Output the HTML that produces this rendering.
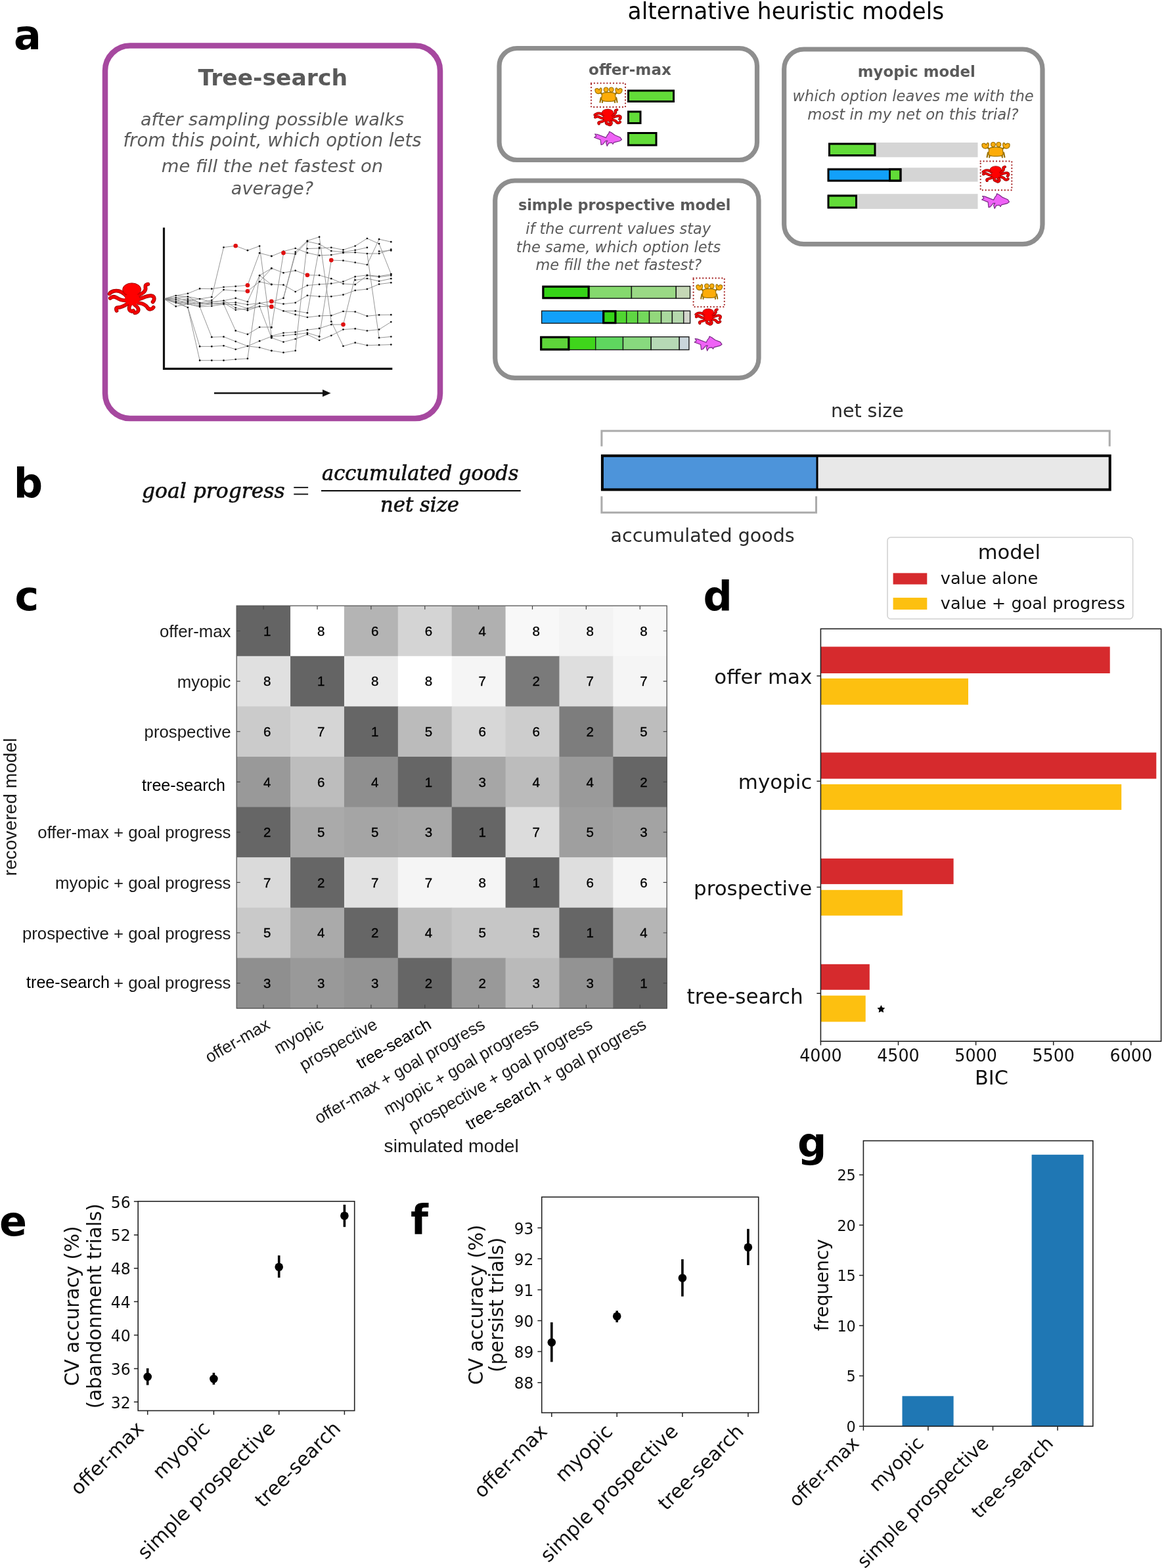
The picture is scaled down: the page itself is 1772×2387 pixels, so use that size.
<!DOCTYPE html>
<html><head><meta charset="utf-8"><title>Figure</title>
<style>html,body{margin:0;padding:0;background:#fff;} svg{display:block;}</style></head>
<body><svg width="1772" height="2387" viewBox="0 0 1772 2387">
<rect width="1772" height="2387" fill="#fff"/>

<defs>
 <g id="octo">
  <g fill="none" stroke-linecap="round" stroke-linejoin="round">
   <g stroke="#9a0000" stroke-width="112">
    <path d="M640,610 C520,470 380,420 250,450 C180,470 150,500 130,530"/>
    <path d="M640,720 C520,740 420,700 330,640 C260,600 200,620 150,660"/>
    <path d="M660,820 C560,900 450,930 360,940 C320,950 320,990 340,1030"/>
    <path d="M740,850 C690,950 700,1030 790,1050 C820,1050 830,1035 835,1030"/>
    <path d="M880,860 C980,930 1010,1000 960,1060 C930,1090 900,1095 880,1095"/>
    <path d="M990,800 C1150,820 1230,880 1270,960 C1320,1010 1400,980 1430,930"/>
    <path d="M990,690 C1150,640 1280,570 1380,590 C1470,610 1470,700 1410,770"/>
    <path d="M950,590 C1130,520 1230,430 1190,330 C1180,280 1220,250 1270,245"/>
   </g>
   <g stroke="#f20000" stroke-width="80">
    <path d="M640,610 C520,470 380,420 250,450 C180,470 150,500 130,530"/>
    <path d="M640,720 C520,740 420,700 330,640 C260,600 200,620 150,660"/>
    <path d="M660,820 C560,900 450,930 360,940 C320,950 320,990 340,1030"/>
    <path d="M740,850 C690,950 700,1030 790,1050 C820,1050 830,1035 835,1030"/>
    <path d="M880,860 C980,930 1010,1000 960,1060 C930,1090 900,1095 880,1095"/>
    <path d="M990,800 C1150,820 1230,880 1270,960 C1320,1010 1400,980 1430,930"/>
    <path d="M990,690 C1150,640 1280,570 1380,590 C1470,610 1470,700 1410,770"/>
    <path d="M950,590 C1130,520 1230,430 1190,330 C1180,280 1220,250 1270,245"/>
   </g>
  </g>
  <ellipse cx="790" cy="405" rx="272" ry="192" fill="#ff0000" stroke="#9a0000" stroke-width="18"/>
  <ellipse cx="800" cy="680" rx="215" ry="190" fill="#ff0000"/>
 </g>
 <g id="octos">
  <g fill="none" stroke-linecap="round" stroke-linejoin="round">
   <g stroke="#8e0000" stroke-width="150">
    <path d="M640,610 C520,470 380,420 250,450 C180,470 150,500 130,530"/>
    <path d="M640,720 C520,740 420,700 330,640 C260,600 200,620 150,660"/>
    <path d="M660,820 C560,900 450,930 360,940 C320,950 320,990 340,1030"/>
    <path d="M740,850 C690,950 700,1030 790,1050 C820,1050 830,1035 835,1030"/>
    <path d="M880,860 C980,930 1010,1000 960,1060 C930,1090 900,1095 880,1095"/>
    <path d="M990,800 C1150,820 1230,880 1270,960 C1320,1010 1400,980 1430,930"/>
    <path d="M990,690 C1150,640 1280,570 1380,590 C1470,610 1470,700 1410,770"/>
    <path d="M950,590 C1130,520 1230,430 1190,330 C1180,280 1220,250 1270,245"/>
   </g>
   <g stroke="#ee0000" stroke-width="95">
    <path d="M640,610 C520,470 380,420 250,450 C180,470 150,500 130,530"/>
    <path d="M640,720 C520,740 420,700 330,640 C260,600 200,620 150,660"/>
    <path d="M660,820 C560,900 450,930 360,940 C320,950 320,990 340,1030"/>
    <path d="M740,850 C690,950 700,1030 790,1050 C820,1050 830,1035 835,1030"/>
    <path d="M880,860 C980,930 1010,1000 960,1060 C930,1090 900,1095 880,1095"/>
    <path d="M990,800 C1150,820 1230,880 1270,960 C1320,1010 1400,980 1430,930"/>
    <path d="M990,690 C1150,640 1280,570 1380,590 C1470,610 1470,700 1410,770"/>
    <path d="M950,590 C1130,520 1230,430 1190,330 C1180,280 1220,250 1270,245"/>
   </g>
  </g>
  <ellipse cx="790" cy="405" rx="300" ry="205" fill="#ff0000" stroke="#8e0000" stroke-width="26"/>
  <ellipse cx="800" cy="680" rx="215" ry="190" fill="#ff0000"/>
 </g>
 <g id="crab" stroke="#9a7000" stroke-linejoin="round" stroke-linecap="round">
   <path d="M22,36 L19,51 M29,39 L27,52 M78,36 L81,51 M71,39 L73,52" fill="none" stroke-width="5"/>
   <path d="M18,16 L31,27 M82,16 L69,27" fill="none" stroke-width="6"/>
   <path d="M1,8 C0,17 6,22 14,21.5 C22,21 26,14 25,6 C24.5,2 21,1 19,3.5 L15.5,9 C13.5,4.5 9,3 5.5,4 C2.5,4.5 1,6 1,8 Z" fill="#fbad0e" stroke-width="2.8"/>
   <path d="M99,8 C100,17 94,22 86,21.5 C78,21 74,14 75,6 C75.5,2 79,1 81,3.5 L84.5,9 C86.5,4.5 91,3 94.5,4 C97.5,4.5 99,6 99,8 Z" fill="#fbad0e" stroke-width="2.8"/>
   <circle cx="40.5" cy="8" r="8" fill="#fbad0e" stroke-width="2.8"/>
   <circle cx="60" cy="8" r="8" fill="#fbad0e" stroke-width="2.8"/>
   <path d="M26,24 C28,18 40,17 50,17.5 C60,17 72,18 74,24 L76,40 C76,47 68,48.5 50,48.5 C32,48.5 24,47 24,40 Z" fill="#fcac08" stroke-width="2.8"/>
 </g>
 <g id="fish">
  <path d="M100,29.2 L94,21 L75.3,13.5 L64,5.2 L55,0.7 L52.8,7.5 L47.6,13.5 L43,22.5 L11.6,10.5 L2.6,9.4 L7.9,16.5 L0.4,21.7 L22.8,30 L25.1,47.9 L31.1,46.4 L41.6,34.5 L48.3,33.7 L43.1,40.4 L46.8,52.4 L52.8,41.9 L64,40.4 L67.8,45.7 L71.5,39.7 L92.5,34.5 Z" fill="#ef62f6" stroke="#7a2a86" stroke-width="2.8" stroke-linejoin="round"/>
 </g>
</defs>

<text x="21.0" y="75.0" font-size="62" font-family="'DejaVu Sans', 'Liberation Sans', sans-serif" text-anchor="start" fill="#000" font-weight="bold">a</text>
<text x="20.8" y="757.0" font-size="62" font-family="'DejaVu Sans', 'Liberation Sans', sans-serif" text-anchor="start" fill="#000" font-weight="bold">b</text>
<text x="22.5" y="928.8" font-size="62" font-family="'DejaVu Sans', 'Liberation Sans', sans-serif" text-anchor="start" fill="#000" font-weight="bold">c</text>
<text x="1070.4" y="929.0" font-size="62" font-family="'DejaVu Sans', 'Liberation Sans', sans-serif" text-anchor="start" fill="#000" font-weight="bold">d</text>
<text x="-1.1" y="1881.0" font-size="62" font-family="'DejaVu Sans', 'Liberation Sans', sans-serif" text-anchor="start" fill="#000" font-weight="bold">e</text>
<text x="625.0" y="1877.8" font-size="62" font-family="'DejaVu Sans', 'Liberation Sans', sans-serif" text-anchor="start" fill="#000" font-weight="bold">f</text>
<text x="1214.1" y="1761.2" font-size="62" font-family="'DejaVu Sans', 'Liberation Sans', sans-serif" text-anchor="start" fill="#000" font-weight="bold">g</text>
<text x="955.6" y="29.3" font-size="35" font-family="'DejaVu Sans', 'Liberation Sans', sans-serif" text-anchor="start" fill="#000" textLength="481.6" lengthAdjust="spacingAndGlyphs">alternative heuristic models</text>
<rect x="160" y="69.5" width="510" height="567.5" rx="38" ry="38" fill="none" stroke="#a6489f" stroke-width="8.5"/>
<text x="415.2" y="130.0" font-size="34.6" font-family="'DejaVu Sans', 'Liberation Sans', sans-serif" text-anchor="middle" fill="#5a5a5a" font-weight="bold">Tree-search</text>
<text x="414.5" y="190.7" font-size="27.1" font-family="'DejaVu Sans', 'Liberation Sans', sans-serif" text-anchor="middle" fill="#5a5a5a" font-style="italic">after sampling possible walks</text>
<text x="414.5" y="222.7" font-size="27.5" font-family="'DejaVu Sans', 'Liberation Sans', sans-serif" text-anchor="middle" fill="#5a5a5a" font-style="italic">from this point, which option lets</text>
<text x="414.5" y="262.0" font-size="27.4" font-family="'DejaVu Sans', 'Liberation Sans', sans-serif" text-anchor="middle" fill="#5a5a5a" font-style="italic">me fill the net fastest on</text>
<text x="414.5" y="296.0" font-size="27.1" font-family="'DejaVu Sans', 'Liberation Sans', sans-serif" text-anchor="middle" fill="#5a5a5a" font-style="italic">average?</text>
<path d="M249.5,346.5 L249.5,561.3 L597.3,561.3" fill="none" stroke="#111" stroke-width="3.2"/>
<line x1="326" y1="598.5" x2="494" y2="598.5" stroke="#111" stroke-width="2.6"/>
<path d="M491,593 L503.5,598.5 L491,604 Z" fill="#111"/>
<polyline points="249.5,455.0 267.7,450.0 285.9,446.8 304.1,439.4 322.3,439.7 340.5,437.0 358.7,435.9 376.9,434.2 395.1,385.2 413.3,389.9" fill="none" stroke="#8a8a8a" stroke-width="0.9"/>
<polyline points="249.5,455.0 267.7,453.3 285.9,451.7 304.1,455.0 322.3,452.2 340.5,376.5 358.7,374.3 376.9,381.2 395.1,374.6 413.3,512.2" fill="none" stroke="#8a8a8a" stroke-width="0.9"/>
<polyline points="249.5,455.0 267.7,456.0 285.9,455.0 304.1,461.0 322.3,457.1 340.5,441.1 358.7,442.6 376.9,443.3 395.1,428.8 413.3,408.6" fill="none" stroke="#8a8a8a" stroke-width="0.9"/>
<polyline points="249.5,455.0 267.7,458.8 285.9,457.7 304.1,463.1 322.3,459.9 340.5,457.7 358.7,453.9 376.9,459.3 395.1,419.3 413.3,433.2" fill="none" stroke="#8a8a8a" stroke-width="0.9"/>
<polyline points="249.5,455.0 267.7,461.0 285.9,459.9 304.1,465.3 322.3,462.6 340.5,461.0 358.7,460.4 376.9,463.7 395.1,461.5 413.3,458.8" fill="none" stroke="#8a8a8a" stroke-width="0.9"/>
<polyline points="249.5,455.0 267.7,466.4 285.9,462.6 304.1,467.0 322.3,465.8 340.5,463.1 358.7,463.7 376.9,469.7 395.1,466.4 413.3,466.9" fill="none" stroke="#8a8a8a" stroke-width="0.9"/>
<polyline points="249.5,455.0 267.7,461.0 285.9,468.0 304.1,527.4 322.3,527.4 340.5,526.3 358.7,531.8 376.9,526.9 395.1,519.2 413.3,512.2" fill="none" stroke="#8a8a8a" stroke-width="0.9"/>
<polyline points="249.5,455.0 267.7,458.8 285.9,468.0 304.1,548.7 322.3,548.7 340.5,548.7 358.7,547.0 376.9,545.9 395.1,419.3 413.3,408.6" fill="none" stroke="#8a8a8a" stroke-width="0.9"/>
<polyline points="249.5,455.0 267.7,456.0 285.9,462.6 304.1,461.0 322.3,462.6 340.5,463.1 358.7,503.4 376.9,508.9 395.1,498.0 413.3,498.0" fill="none" stroke="#8a8a8a" stroke-width="0.9"/>
<polyline points="249.5,455.0 267.7,461.0 285.9,462.6 304.1,467.0 322.3,513.2 340.5,512.7 358.7,519.8 376.9,526.9 395.1,529.0 413.3,534.0" fill="none" stroke="#8a8a8a" stroke-width="0.9"/>
<polyline points="249.5,455.0 267.7,453.3 285.9,457.7 304.1,455.0 322.3,459.9 340.5,457.7 358.7,468.6 376.9,472.4 395.1,466.4 413.3,514.3" fill="none" stroke="#8a8a8a" stroke-width="0.9"/>
<polyline points="249.5,455.0 267.7,450.0 285.9,451.7 304.1,461.0 322.3,462.6 340.5,461.0 358.7,471.8 376.9,469.7 395.1,461.5 413.3,466.9" fill="none" stroke="#8a8a8a" stroke-width="0.9"/>
<polyline points="395.1,428.8 413.3,433.2" fill="none" stroke="#8a8a8a" stroke-width="0.9"/>
<polyline points="413.3,390.0 431.5,382.6 449.7,378.0 467.9,384.9 486.1,388.9 504.3,388.1 522.5,384.9 540.7,384.3 558.9,386.0 577.1,386.0 595.3,379.7" fill="none" stroke="#8a8a8a" stroke-width="0.9"/>
<polyline points="431.5,385.1 449.7,386.6 467.9,367.6 486.1,371.6 504.3,382.0 522.5,383.7 540.7,380.8 558.9,376.8" fill="none" stroke="#8a8a8a" stroke-width="0.9"/>
<polyline points="413.3,459.6 431.5,453.9 449.7,383.7 467.9,366.5 486.1,360.7 504.3,489.5 522.5,526.9 540.7,521.7 558.9,525.7 577.1,525.2 595.3,524.6" fill="none" stroke="#8a8a8a" stroke-width="0.9"/>
<polyline points="449.7,533.8 467.9,367.6" fill="none" stroke="#8a8a8a" stroke-width="0.9"/>
<polyline points="467.9,378.5 486.1,378.0 504.3,376.8 522.5,380.3 540.7,374.5 558.9,363.0 577.1,371.1 595.3,417.1" fill="none" stroke="#8a8a8a" stroke-width="0.9"/>
<polyline points="486.1,376.8 467.9,476.3" fill="none" stroke="#8a8a8a" stroke-width="0.9"/>
<polyline points="504.3,396.1 522.5,396.7 540.7,399.6 558.9,403.0 577.1,364.2 595.3,368.2" fill="none" stroke="#8a8a8a" stroke-width="0.9"/>
<polyline points="504.3,396.1 486.1,512.5" fill="none" stroke="#8a8a8a" stroke-width="0.9"/>
<polyline points="413.3,408.4 431.5,415.3 449.7,411.9 467.9,418.8 486.1,419.1 504.3,424.2 522.5,432.0 540.7,433.2 558.9,419.4 577.1,421.7 595.3,419.4" fill="none" stroke="#8a8a8a" stroke-width="0.9"/>
<polyline points="413.3,432.9 431.5,433.7 449.7,444.1 467.9,434.5 486.1,432.9 504.3,431.7 522.5,428.6 540.7,421.1 558.9,418.8 577.1,420.5 595.3,417.6" fill="none" stroke="#8a8a8a" stroke-width="0.9"/>
<polyline points="522.5,494.1 540.7,421.1" fill="none" stroke="#8a8a8a" stroke-width="0.9"/>
<polyline points="413.3,459.6 431.5,462.7 449.7,460.8 467.9,449.8 486.1,451.3 504.3,451.3 522.5,448.7 540.7,442.1 558.9,440.1 577.1,432.6 595.3,430.3" fill="none" stroke="#8a8a8a" stroke-width="0.9"/>
<polyline points="413.3,466.5 431.5,473.4 449.7,473.4 467.9,476.3" fill="none" stroke="#8a8a8a" stroke-width="0.9"/>
<polyline points="431.5,473.4 449.7,478.9 467.9,483.0 486.1,480.9 504.3,480.3 522.5,474.0 540.7,474.6 558.9,481.2 577.1,479.4 595.3,479.2" fill="none" stroke="#8a8a8a" stroke-width="0.9"/>
<polyline points="413.3,511.4 431.5,506.8 449.7,505.6 467.9,502.2 486.1,499.9 504.3,494.1 522.5,494.1" fill="none" stroke="#8a8a8a" stroke-width="0.9"/>
<polyline points="413.3,512.5 431.5,510.8 449.7,509.1 467.9,506.8 486.1,512.2" fill="none" stroke="#8a8a8a" stroke-width="0.9"/>
<polyline points="413.3,514.2 431.5,520.6 449.7,516.0 467.9,509.1 486.1,518.0 504.3,510.8 522.5,501.6 540.7,500.4 558.9,503.5 577.1,501.6 595.3,490.1" fill="none" stroke="#8a8a8a" stroke-width="0.9"/>
<polyline points="558.9,386.0 577.1,514.2 595.3,512.5" fill="none" stroke="#8a8a8a" stroke-width="0.9"/>
<polyline points="413.3,533.8 431.5,536.7 449.7,533.8" fill="none" stroke="#8a8a8a" stroke-width="0.9"/>
<polyline points="540.7,426.3 558.9,424.0 577.1,428.0 595.3,424.2" fill="none" stroke="#8a8a8a" stroke-width="0.9"/>
<polyline points="431.5,386.0 413.3,498.7" fill="none" stroke="#8a8a8a" stroke-width="0.9"/>
<polyline points="449.7,386.6 431.5,453.9" fill="none" stroke="#8a8a8a" stroke-width="0.9"/>
<polyline points="577.1,382.6 595.3,381.4" fill="none" stroke="#8a8a8a" stroke-width="0.9"/>
<g fill="#111"><circle cx="249.5" cy="455" r="1.35"/><circle cx="267.7" cy="450" r="1.35"/><circle cx="267.7" cy="453.3" r="1.35"/><circle cx="267.7" cy="456" r="1.35"/><circle cx="267.7" cy="458.8" r="1.35"/><circle cx="267.7" cy="461" r="1.35"/><circle cx="267.7" cy="466.4" r="1.35"/><circle cx="285.9" cy="446.8" r="1.35"/><circle cx="285.9" cy="451.7" r="1.35"/><circle cx="285.9" cy="455" r="1.35"/><circle cx="285.9" cy="457.7" r="1.35"/><circle cx="285.9" cy="459.9" r="1.35"/><circle cx="285.9" cy="462.6" r="1.35"/><circle cx="285.9" cy="468" r="1.35"/><circle cx="304.1" cy="439.4" r="1.35"/><circle cx="304.1" cy="455" r="1.35"/><circle cx="304.1" cy="461" r="1.35"/><circle cx="304.1" cy="463.1" r="1.35"/><circle cx="304.1" cy="465.3" r="1.35"/><circle cx="304.1" cy="467" r="1.35"/><circle cx="304.1" cy="527.4" r="1.35"/><circle cx="304.1" cy="548.7" r="1.35"/><circle cx="322.3" cy="439.7" r="1.35"/><circle cx="322.3" cy="452.2" r="1.35"/><circle cx="322.3" cy="457.1" r="1.35"/><circle cx="322.3" cy="459.9" r="1.35"/><circle cx="322.3" cy="462.6" r="1.35"/><circle cx="322.3" cy="465.8" r="1.35"/><circle cx="322.3" cy="513.2" r="1.35"/><circle cx="322.3" cy="527.4" r="1.35"/><circle cx="322.3" cy="548.7" r="1.35"/><circle cx="340.5" cy="376.5" r="1.35"/><circle cx="340.5" cy="437" r="1.35"/><circle cx="340.5" cy="441.1" r="1.35"/><circle cx="340.5" cy="457.7" r="1.35"/><circle cx="340.5" cy="461" r="1.35"/><circle cx="340.5" cy="463.1" r="1.35"/><circle cx="340.5" cy="512.7" r="1.35"/><circle cx="340.5" cy="526.3" r="1.35"/><circle cx="340.5" cy="548.7" r="1.35"/><circle cx="358.7" cy="374.3" r="1.35"/><circle cx="358.7" cy="435.9" r="1.35"/><circle cx="358.7" cy="442.6" r="1.35"/><circle cx="358.7" cy="453.9" r="1.35"/><circle cx="358.7" cy="460.4" r="1.35"/><circle cx="358.7" cy="463.7" r="1.35"/><circle cx="358.7" cy="468.6" r="1.35"/><circle cx="358.7" cy="471.8" r="1.35"/><circle cx="358.7" cy="503.4" r="1.35"/><circle cx="358.7" cy="519.8" r="1.35"/><circle cx="358.7" cy="531.8" r="1.35"/><circle cx="358.7" cy="547" r="1.35"/><circle cx="376.9" cy="381.2" r="1.35"/><circle cx="376.9" cy="434.2" r="1.35"/><circle cx="376.9" cy="443.3" r="1.35"/><circle cx="376.9" cy="459.3" r="1.35"/><circle cx="376.9" cy="463.7" r="1.35"/><circle cx="376.9" cy="469.7" r="1.35"/><circle cx="376.9" cy="472.4" r="1.35"/><circle cx="376.9" cy="508.9" r="1.35"/><circle cx="376.9" cy="526.9" r="1.35"/><circle cx="376.9" cy="545.9" r="1.35"/><circle cx="395.1" cy="374.6" r="1.35"/><circle cx="395.1" cy="385.2" r="1.35"/><circle cx="395.1" cy="419.3" r="1.35"/><circle cx="395.1" cy="428.8" r="1.35"/><circle cx="395.1" cy="461.5" r="1.35"/><circle cx="395.1" cy="466.4" r="1.35"/><circle cx="395.1" cy="498" r="1.35"/><circle cx="395.1" cy="519.2" r="1.35"/><circle cx="395.1" cy="529" r="1.35"/><circle cx="413.3" cy="389.9" r="1.35"/><circle cx="413.3" cy="390.0" r="1.35"/><circle cx="413.3" cy="408.4" r="1.35"/><circle cx="413.3" cy="408.6" r="1.35"/><circle cx="413.3" cy="432.9" r="1.35"/><circle cx="413.3" cy="433.2" r="1.35"/><circle cx="413.3" cy="458.8" r="1.35"/><circle cx="413.3" cy="459.6" r="1.35"/><circle cx="413.3" cy="466.5" r="1.35"/><circle cx="413.3" cy="466.9" r="1.35"/><circle cx="413.3" cy="498" r="1.35"/><circle cx="413.3" cy="498.7" r="1.35"/><circle cx="413.3" cy="511.4" r="1.35"/><circle cx="413.3" cy="512.2" r="1.35"/><circle cx="413.3" cy="512.5" r="1.35"/><circle cx="413.3" cy="514.2" r="1.35"/><circle cx="413.3" cy="514.3" r="1.35"/><circle cx="413.3" cy="533.8" r="1.35"/><circle cx="413.3" cy="534" r="1.35"/><circle cx="431.5" cy="382.6" r="1.35"/><circle cx="431.5" cy="385.1" r="1.35"/><circle cx="431.5" cy="386.0" r="1.35"/><circle cx="431.5" cy="415.3" r="1.35"/><circle cx="431.5" cy="433.7" r="1.35"/><circle cx="431.5" cy="453.9" r="1.35"/><circle cx="431.5" cy="462.7" r="1.35"/><circle cx="431.5" cy="473.4" r="1.35"/><circle cx="431.5" cy="506.8" r="1.35"/><circle cx="431.5" cy="510.8" r="1.35"/><circle cx="431.5" cy="520.6" r="1.35"/><circle cx="431.5" cy="536.7" r="1.35"/><circle cx="449.7" cy="378.0" r="1.35"/><circle cx="449.7" cy="383.7" r="1.35"/><circle cx="449.7" cy="386.6" r="1.35"/><circle cx="449.7" cy="411.9" r="1.35"/><circle cx="449.7" cy="444.1" r="1.35"/><circle cx="449.7" cy="460.8" r="1.35"/><circle cx="449.7" cy="473.4" r="1.35"/><circle cx="449.7" cy="478.9" r="1.35"/><circle cx="449.7" cy="505.6" r="1.35"/><circle cx="449.7" cy="509.1" r="1.35"/><circle cx="449.7" cy="516.0" r="1.35"/><circle cx="449.7" cy="533.8" r="1.35"/><circle cx="467.9" cy="366.5" r="1.35"/><circle cx="467.9" cy="367.6" r="1.35"/><circle cx="467.9" cy="378.5" r="1.35"/><circle cx="467.9" cy="384.9" r="1.35"/><circle cx="467.9" cy="418.8" r="1.35"/><circle cx="467.9" cy="434.5" r="1.35"/><circle cx="467.9" cy="449.8" r="1.35"/><circle cx="467.9" cy="476.3" r="1.35"/><circle cx="467.9" cy="483.0" r="1.35"/><circle cx="467.9" cy="502.2" r="1.35"/><circle cx="467.9" cy="506.8" r="1.35"/><circle cx="467.9" cy="509.1" r="1.35"/><circle cx="486.1" cy="360.7" r="1.35"/><circle cx="486.1" cy="371.6" r="1.35"/><circle cx="486.1" cy="376.8" r="1.35"/><circle cx="486.1" cy="378.0" r="1.35"/><circle cx="486.1" cy="388.9" r="1.35"/><circle cx="486.1" cy="419.1" r="1.35"/><circle cx="486.1" cy="432.9" r="1.35"/><circle cx="486.1" cy="451.3" r="1.35"/><circle cx="486.1" cy="480.9" r="1.35"/><circle cx="486.1" cy="499.9" r="1.35"/><circle cx="486.1" cy="512.2" r="1.35"/><circle cx="486.1" cy="512.5" r="1.35"/><circle cx="486.1" cy="518.0" r="1.35"/><circle cx="504.3" cy="376.8" r="1.35"/><circle cx="504.3" cy="382.0" r="1.35"/><circle cx="504.3" cy="388.1" r="1.35"/><circle cx="504.3" cy="396.1" r="1.35"/><circle cx="504.3" cy="424.2" r="1.35"/><circle cx="504.3" cy="431.7" r="1.35"/><circle cx="504.3" cy="451.3" r="1.35"/><circle cx="504.3" cy="480.3" r="1.35"/><circle cx="504.3" cy="489.5" r="1.35"/><circle cx="504.3" cy="494.1" r="1.35"/><circle cx="504.3" cy="510.8" r="1.35"/><circle cx="522.5" cy="380.3" r="1.35"/><circle cx="522.5" cy="383.7" r="1.35"/><circle cx="522.5" cy="384.9" r="1.35"/><circle cx="522.5" cy="396.7" r="1.35"/><circle cx="522.5" cy="428.6" r="1.35"/><circle cx="522.5" cy="432.0" r="1.35"/><circle cx="522.5" cy="448.7" r="1.35"/><circle cx="522.5" cy="474.0" r="1.35"/><circle cx="522.5" cy="494.1" r="1.35"/><circle cx="522.5" cy="501.6" r="1.35"/><circle cx="522.5" cy="526.9" r="1.35"/><circle cx="540.7" cy="374.5" r="1.35"/><circle cx="540.7" cy="380.8" r="1.35"/><circle cx="540.7" cy="384.3" r="1.35"/><circle cx="540.7" cy="399.6" r="1.35"/><circle cx="540.7" cy="421.1" r="1.35"/><circle cx="540.7" cy="426.3" r="1.35"/><circle cx="540.7" cy="433.2" r="1.35"/><circle cx="540.7" cy="442.1" r="1.35"/><circle cx="540.7" cy="474.6" r="1.35"/><circle cx="540.7" cy="500.4" r="1.35"/><circle cx="540.7" cy="521.7" r="1.35"/><circle cx="558.9" cy="363.0" r="1.35"/><circle cx="558.9" cy="376.8" r="1.35"/><circle cx="558.9" cy="386.0" r="1.35"/><circle cx="558.9" cy="403.0" r="1.35"/><circle cx="558.9" cy="418.8" r="1.35"/><circle cx="558.9" cy="419.4" r="1.35"/><circle cx="558.9" cy="424.0" r="1.35"/><circle cx="558.9" cy="440.1" r="1.35"/><circle cx="558.9" cy="481.2" r="1.35"/><circle cx="558.9" cy="503.5" r="1.35"/><circle cx="558.9" cy="525.7" r="1.35"/><circle cx="577.1" cy="364.2" r="1.35"/><circle cx="577.1" cy="371.1" r="1.35"/><circle cx="577.1" cy="382.6" r="1.35"/><circle cx="577.1" cy="386.0" r="1.35"/><circle cx="577.1" cy="420.5" r="1.35"/><circle cx="577.1" cy="421.7" r="1.35"/><circle cx="577.1" cy="428.0" r="1.35"/><circle cx="577.1" cy="432.6" r="1.35"/><circle cx="577.1" cy="479.4" r="1.35"/><circle cx="577.1" cy="501.6" r="1.35"/><circle cx="577.1" cy="514.2" r="1.35"/><circle cx="577.1" cy="525.2" r="1.35"/><circle cx="595.3" cy="368.2" r="1.35"/><circle cx="595.3" cy="379.7" r="1.35"/><circle cx="595.3" cy="381.4" r="1.35"/><circle cx="595.3" cy="417.1" r="1.35"/><circle cx="595.3" cy="417.6" r="1.35"/><circle cx="595.3" cy="419.4" r="1.35"/><circle cx="595.3" cy="424.2" r="1.35"/><circle cx="595.3" cy="430.3" r="1.35"/><circle cx="595.3" cy="479.2" r="1.35"/><circle cx="595.3" cy="490.1" r="1.35"/><circle cx="595.3" cy="512.5" r="1.35"/><circle cx="595.3" cy="524.6" r="1.35"/></g>
<g fill="#e01010"><circle cx="358.7" cy="374.3" r="3.3"/><circle cx="376.9" cy="434.2" r="3.3"/><circle cx="376.9" cy="443.3" r="3.3"/><circle cx="413.3" cy="458.8" r="3.3"/><circle cx="413.3" cy="466.9" r="3.3"/><circle cx="431.5" cy="385.1" r="3.3"/><circle cx="467.9" cy="418.8" r="3.3"/><circle cx="504.3" cy="396.1" r="3.3"/><circle cx="522.5" cy="494.1" r="3.3"/></g>
<use href="#octo" transform="translate(165.70,431.00) scale(0.05144,0.05156) translate(-110,-215)"/>
<rect x="760" y="73.5" width="392.5" height="170" rx="27" ry="27" fill="none" stroke="#8e8e8e" stroke-width="7.2"/>
<text x="959.0" y="114.0" font-size="23.1" font-family="'DejaVu Sans', 'Liberation Sans', sans-serif" text-anchor="middle" fill="#5a5a5a" font-weight="bold">offer-max</text>
<rect x="900" y="126.7" width="52" height="36.3" fill="none" stroke="#a82a2a" stroke-width="2.3" stroke-dasharray="0.01 4.85" stroke-linecap="round"/>
<use href="#crab" transform="translate(905.50,133.00) scale(0.4200,0.4423)"/>
<rect x="956.5" y="138" width="69" height="16.5" fill="#62dc38" stroke="#000" stroke-width="3"/>
<use href="#octos" transform="translate(905.00,166.50) scale(0.02950,0.02689) translate(-110,-215)"/>
<rect x="956.5" y="170" width="18.5" height="17.5" fill="#62dc38" stroke="#000" stroke-width="3"/>
<use href="#fish" transform="translate(904.50,200.00) scale(0.4200,0.4264)"/>
<rect x="956.5" y="202.5" width="42.5" height="18.5" fill="#62dc38" stroke="#000" stroke-width="3"/>
<rect x="1193.7" y="75" width="393.3" height="296.7" rx="30" ry="30" fill="none" stroke="#8e8e8e" stroke-width="7.2"/>
<text x="1395.3" y="117.2" font-size="22.8" font-family="'DejaVu Sans', 'Liberation Sans', sans-serif" text-anchor="middle" fill="#5a5a5a" font-weight="bold">myopic model</text>
<text x="1390.2" y="154.4" font-size="22.6" font-family="'DejaVu Sans', 'Liberation Sans', sans-serif" text-anchor="middle" fill="#5a5a5a" font-style="italic">which option leaves me with the</text>
<text x="1390.0" y="181.6" font-size="22.8" font-family="'DejaVu Sans', 'Liberation Sans', sans-serif" text-anchor="middle" fill="#5a5a5a" font-style="italic">most in my net on this trial?</text>
<rect x="1261" y="217" width="227.5" height="22.3" fill="#d5d5d5"/>
<rect x="1262.5" y="219" width="69.5" height="17.5" fill="#62dc38" stroke="#000" stroke-width="3"/>
<rect x="1260" y="255.3" width="228.5" height="21.3" fill="#d5d5d5"/>
<rect x="1261" y="257.8" width="93" height="17.3" fill="#12a0fa"/>
<rect x="1354.5" y="257.8" width="16.5" height="17.3" fill="#62dc38" stroke="#000" stroke-width="2.8"/>
<rect x="1261" y="257.8" width="110" height="17.3" fill="none" stroke="#000" stroke-width="3"/>
<rect x="1260" y="295.2" width="228.5" height="22.8" fill="#d5d5d5"/>
<rect x="1261" y="298" width="42.5" height="18" fill="#62dc38" stroke="#000" stroke-width="3"/>
<use href="#crab" transform="translate(1494.50,216.50) scale(0.4300,0.4423)"/>
<rect x="1492.7" y="245.5" width="47.59999999999991" height="44.0" fill="none" stroke="#a82a2a" stroke-width="2.3" stroke-dasharray="0.01 4.85" stroke-linecap="round"/>
<use href="#octos" transform="translate(1496.00,253.30) scale(0.02914,0.02667) translate(-110,-215)"/>
<use href="#fish" transform="translate(1494.50,294.50) scale(0.4200,0.4396)"/>
<rect x="753.7" y="275" width="401.3" height="300.3" rx="30" ry="30" fill="none" stroke="#8e8e8e" stroke-width="7.2"/>
<text x="950.7" y="320.0" font-size="22.3" font-family="'DejaVu Sans', 'Liberation Sans', sans-serif" text-anchor="middle" fill="#5a5a5a" font-weight="bold">simple prospective model</text>
<text x="941.2" y="355.9" font-size="22.45" font-family="'DejaVu Sans', 'Liberation Sans', sans-serif" text-anchor="middle" fill="#5a5a5a" font-style="italic">if the current values stay</text>
<text x="941.5" y="383.9" font-size="22.5" font-family="'DejaVu Sans', 'Liberation Sans', sans-serif" text-anchor="middle" fill="#5a5a5a" font-style="italic">the same, which option lets</text>
<text x="941.8" y="411.3" font-size="22.4" font-family="'DejaVu Sans', 'Liberation Sans', sans-serif" text-anchor="middle" fill="#5a5a5a" font-style="italic">me fill the net fastest?</text>
<rect x="826.5" y="435.8" width="70.0" height="18.4" fill="#35d417" stroke="#1a1a1a" stroke-width="1.4"/>
<rect x="896.5" y="435.8" width="64.9" height="18.4" fill="#85d96e" stroke="#1a1a1a" stroke-width="1.4"/>
<rect x="961.4" y="435.8" width="67.9" height="18.4" fill="#9ad985" stroke="#1a1a1a" stroke-width="1.4"/>
<rect x="1029.3" y="435.8" width="21.2" height="18.4" fill="#c5d8b6" stroke="#1a1a1a" stroke-width="1.4"/>
<rect x="826.9" y="436.3" width="69.2" height="17.4" fill="none" stroke="#000" stroke-width="3.2"/>
<rect x="824.6" y="473.3" width="94" height="18.8" fill="#12a0fa" stroke="#1a1a1a" stroke-width="1.4"/>
<rect x="918.3" y="473.3" width="19.0" height="18.8" fill="#35d417" stroke="#1a1a1a" stroke-width="1.4"/>
<rect x="937.3" y="473.3" width="16.4" height="18.8" fill="#50d630" stroke="#1a1a1a" stroke-width="1.4"/>
<rect x="953.7" y="473.3" width="17.0" height="18.8" fill="#5fd743" stroke="#1a1a1a" stroke-width="1.4"/>
<rect x="970.7" y="473.3" width="17.8" height="18.8" fill="#74d85c" stroke="#1a1a1a" stroke-width="1.4"/>
<rect x="988.5" y="473.3" width="18.1" height="18.8" fill="#93d87c" stroke="#1a1a1a" stroke-width="1.4"/>
<rect x="1006.6" y="473.3" width="16.8" height="18.8" fill="#aad99e" stroke="#1a1a1a" stroke-width="1.4"/>
<rect x="1023.4" y="473.3" width="17.3" height="18.8" fill="#b5d8ad" stroke="#1a1a1a" stroke-width="1.4"/>
<rect x="1040.7" y="473.3" width="9.9" height="18.8" fill="#d2d5cb" stroke="#1a1a1a" stroke-width="1.4"/>
<rect x="918.7" y="473.8" width="18.2" height="17.8" fill="none" stroke="#000" stroke-width="3.2"/>
<rect x="823.2" y="512.8" width="43.0" height="19.7" fill="#5ed43a" stroke="#1a1a1a" stroke-width="1.4"/>
<rect x="866.2" y="512.8" width="40.5" height="19.7" fill="#3fd61b" stroke="#1a1a1a" stroke-width="1.4"/>
<rect x="906.7" y="512.8" width="41.8" height="19.7" fill="#5fd75f" stroke="#1a1a1a" stroke-width="1.4"/>
<rect x="948.5" y="512.8" width="42.7" height="19.7" fill="#88d97e" stroke="#1a1a1a" stroke-width="1.4"/>
<rect x="991.2" y="512.8" width="43.0" height="19.7" fill="#b6d9b5" stroke="#1a1a1a" stroke-width="1.4"/>
<rect x="1034.2" y="512.8" width="14.7" height="19.7" fill="#cad6db" stroke="#1a1a1a" stroke-width="1.4"/>
<rect x="823.7" y="513.3" width="42.1" height="18.7" fill="none" stroke="#000" stroke-width="3.2"/>
<rect x="1055.6" y="423.5" width="47.200000000000045" height="43.69999999999999" fill="none" stroke="#a82a2a" stroke-width="2.3" stroke-dasharray="0.01 4.85" stroke-linecap="round"/>
<use href="#crab" transform="translate(1059.50,432.00) scale(0.4050,0.4423)"/>
<use href="#octos" transform="translate(1058.80,470.40) scale(0.02835,0.02667) translate(-110,-215)"/>
<use href="#fish" transform="translate(1057.00,511.70) scale(0.4200,0.4264)"/>
<text x="216.0" y="757.7" font-size="31.5" font-family="'DejaVu Serif', 'Liberation Serif', serif" text-anchor="start" fill="#111" font-style="italic" textLength="217.5" lengthAdjust="spacingAndGlyphs" stroke="#111" stroke-width="0.65">goal progress</text>
<rect x="447.3" y="741.2" width="21.8" height="1.9" fill="#111"/><rect x="447.3" y="751.4" width="21.8" height="1.9" fill="#111"/>
<rect x="489" y="746" width="303.7" height="2.2" fill="#111"/>
<text x="490.0" y="731.0" font-size="31.5" font-family="'DejaVu Serif', 'Liberation Serif', serif" text-anchor="start" fill="#111" font-style="italic" textLength="299.5" lengthAdjust="spacingAndGlyphs" stroke="#111" stroke-width="0.65">accumulated goods</text>
<text x="579.0" y="779.3" font-size="31.5" font-family="'DejaVu Serif', 'Liberation Serif', serif" text-anchor="start" fill="#111" font-style="italic" textLength="120.0" lengthAdjust="spacingAndGlyphs" stroke="#111" stroke-width="0.65">net size</text>
<text x="1320.3" y="634.5" font-size="28.2" font-family="'DejaVu Sans', 'Liberation Sans', sans-serif" text-anchor="middle" fill="#2a2a2a" textLength="110.8" lengthAdjust="spacingAndGlyphs">net size</text>
<path d="M915.9,679.4 L915.9,656 L1689.2,656 L1689.2,679.4" fill="none" stroke="#ababab" stroke-width="3"/>
<rect x="917" y="693.8" width="327" height="51.6" fill="#4d94da"/>
<rect x="1244" y="693.8" width="445.7" height="51.6" fill="#e8e8e8"/>
<rect x="916.9" y="693.8" width="772.8" height="51.6" fill="none" stroke="#000" stroke-width="4"/>
<line x1="1244" y1="693.8" x2="1244" y2="745.4" stroke="#000" stroke-width="3"/>
<path d="M915.9,755.4 L915.9,780.2 L1242.5,780.2 L1242.5,755.4" fill="none" stroke="#ababab" stroke-width="3"/>
<text x="1069.6" y="824.9" font-size="28.2" font-family="'DejaVu Sans', 'Liberation Sans', sans-serif" text-anchor="middle" fill="#2a2a2a" textLength="280.2" lengthAdjust="spacingAndGlyphs">accumulated goods</text>
<rect x="360.20" y="922.20" width="82.47" height="77.19" fill="#646464"/>
<rect x="442.07" y="922.20" width="82.47" height="77.19" fill="#ffffff"/>
<rect x="523.95" y="922.20" width="82.47" height="77.19" fill="#b4b4b4"/>
<rect x="605.83" y="922.20" width="82.47" height="77.19" fill="#d4d4d4"/>
<rect x="687.70" y="922.20" width="82.47" height="77.19" fill="#b0b0b0"/>
<rect x="769.58" y="922.20" width="82.47" height="77.19" fill="#f8f8f8"/>
<rect x="851.45" y="922.20" width="82.47" height="77.19" fill="#f3f3f3"/>
<rect x="933.33" y="922.20" width="82.47" height="77.19" fill="#f8f8f8"/>
<rect x="360.20" y="998.79" width="82.47" height="77.19" fill="#e0e0e0"/>
<rect x="442.07" y="998.79" width="82.47" height="77.19" fill="#646464"/>
<rect x="523.95" y="998.79" width="82.47" height="77.19" fill="#ebebeb"/>
<rect x="605.83" y="998.79" width="82.47" height="77.19" fill="#ffffff"/>
<rect x="687.70" y="998.79" width="82.47" height="77.19" fill="#f5f5f5"/>
<rect x="769.58" y="998.79" width="82.47" height="77.19" fill="#7a7a7a"/>
<rect x="851.45" y="998.79" width="82.47" height="77.19" fill="#dedede"/>
<rect x="933.33" y="998.79" width="82.47" height="77.19" fill="#f5f5f5"/>
<rect x="360.20" y="1075.38" width="82.47" height="77.19" fill="#cbcbcb"/>
<rect x="442.07" y="1075.38" width="82.47" height="77.19" fill="#d5d5d5"/>
<rect x="523.95" y="1075.38" width="82.47" height="77.19" fill="#666666"/>
<rect x="605.83" y="1075.38" width="82.47" height="77.19" fill="#bbbbbb"/>
<rect x="687.70" y="1075.38" width="82.47" height="77.19" fill="#d7d7d7"/>
<rect x="769.58" y="1075.38" width="82.47" height="77.19" fill="#cdcdcd"/>
<rect x="851.45" y="1075.38" width="82.47" height="77.19" fill="#7d7d7d"/>
<rect x="933.33" y="1075.38" width="82.47" height="77.19" fill="#bdbdbd"/>
<rect x="360.20" y="1151.96" width="82.47" height="77.19" fill="#999999"/>
<rect x="442.07" y="1151.96" width="82.47" height="77.19" fill="#bdbdbd"/>
<rect x="523.95" y="1151.96" width="82.47" height="77.19" fill="#8f8f8f"/>
<rect x="605.83" y="1151.96" width="82.47" height="77.19" fill="#666666"/>
<rect x="687.70" y="1151.96" width="82.47" height="77.19" fill="#a6a6a6"/>
<rect x="769.58" y="1151.96" width="82.47" height="77.19" fill="#bcbcbc"/>
<rect x="851.45" y="1151.96" width="82.47" height="77.19" fill="#9a9a9a"/>
<rect x="933.33" y="1151.96" width="82.47" height="77.19" fill="#666666"/>
<rect x="360.20" y="1228.55" width="82.47" height="77.19" fill="#666666"/>
<rect x="442.07" y="1228.55" width="82.47" height="77.19" fill="#aaaaaa"/>
<rect x="523.95" y="1228.55" width="82.47" height="77.19" fill="#a5a5a5"/>
<rect x="605.83" y="1228.55" width="82.47" height="77.19" fill="#a8a8a8"/>
<rect x="687.70" y="1228.55" width="82.47" height="77.19" fill="#666666"/>
<rect x="769.58" y="1228.55" width="82.47" height="77.19" fill="#dcdcdc"/>
<rect x="851.45" y="1228.55" width="82.47" height="77.19" fill="#9f9f9f"/>
<rect x="933.33" y="1228.55" width="82.47" height="77.19" fill="#a3a3a3"/>
<rect x="360.20" y="1305.14" width="82.47" height="77.19" fill="#dadada"/>
<rect x="442.07" y="1305.14" width="82.47" height="77.19" fill="#666666"/>
<rect x="523.95" y="1305.14" width="82.47" height="77.19" fill="#e2e2e2"/>
<rect x="605.83" y="1305.14" width="82.47" height="77.19" fill="#f5f5f5"/>
<rect x="687.70" y="1305.14" width="82.47" height="77.19" fill="#f5f5f5"/>
<rect x="769.58" y="1305.14" width="82.47" height="77.19" fill="#666666"/>
<rect x="851.45" y="1305.14" width="82.47" height="77.19" fill="#dedede"/>
<rect x="933.33" y="1305.14" width="82.47" height="77.19" fill="#f5f5f5"/>
<rect x="360.20" y="1381.73" width="82.47" height="77.19" fill="#c9c9c9"/>
<rect x="442.07" y="1381.73" width="82.47" height="77.19" fill="#aaaaaa"/>
<rect x="523.95" y="1381.73" width="82.47" height="77.19" fill="#666666"/>
<rect x="605.83" y="1381.73" width="82.47" height="77.19" fill="#bdbdbd"/>
<rect x="687.70" y="1381.73" width="82.47" height="77.19" fill="#c6c6c6"/>
<rect x="769.58" y="1381.73" width="82.47" height="77.19" fill="#c6c6c6"/>
<rect x="851.45" y="1381.73" width="82.47" height="77.19" fill="#666666"/>
<rect x="933.33" y="1381.73" width="82.47" height="77.19" fill="#b5b5b5"/>
<rect x="360.20" y="1458.31" width="82.47" height="77.19" fill="#8f8f8f"/>
<rect x="442.07" y="1458.31" width="82.47" height="77.19" fill="#999999"/>
<rect x="523.95" y="1458.31" width="82.47" height="77.19" fill="#939393"/>
<rect x="605.83" y="1458.31" width="82.47" height="77.19" fill="#666666"/>
<rect x="687.70" y="1458.31" width="82.47" height="77.19" fill="#999999"/>
<rect x="769.58" y="1458.31" width="82.47" height="77.19" fill="#bababa"/>
<rect x="851.45" y="1458.31" width="82.47" height="77.19" fill="#939393"/>
<rect x="933.33" y="1458.31" width="82.47" height="77.19" fill="#666666"/>
<text x="406.8" y="967.7" font-size="20.5" font-family="'Liberation Sans', Arial, sans-serif" text-anchor="middle" fill="#000" stroke="#000" stroke-width="0.35">1</text>
<text x="488.7" y="967.7" font-size="20.5" font-family="'Liberation Sans', Arial, sans-serif" text-anchor="middle" fill="#000" stroke="#000" stroke-width="0.35">8</text>
<text x="570.6" y="967.7" font-size="20.5" font-family="'Liberation Sans', Arial, sans-serif" text-anchor="middle" fill="#000" stroke="#000" stroke-width="0.35">6</text>
<text x="652.5" y="967.7" font-size="20.5" font-family="'Liberation Sans', Arial, sans-serif" text-anchor="middle" fill="#000" stroke="#000" stroke-width="0.35">6</text>
<text x="734.3" y="967.7" font-size="20.5" font-family="'Liberation Sans', Arial, sans-serif" text-anchor="middle" fill="#000" stroke="#000" stroke-width="0.35">4</text>
<text x="816.2" y="967.7" font-size="20.5" font-family="'Liberation Sans', Arial, sans-serif" text-anchor="middle" fill="#000" stroke="#000" stroke-width="0.35">8</text>
<text x="898.1" y="967.7" font-size="20.5" font-family="'Liberation Sans', Arial, sans-serif" text-anchor="middle" fill="#000" stroke="#000" stroke-width="0.35">8</text>
<text x="980.0" y="967.7" font-size="20.5" font-family="'Liberation Sans', Arial, sans-serif" text-anchor="middle" fill="#000" stroke="#000" stroke-width="0.35">8</text>
<text x="406.8" y="1044.3" font-size="20.5" font-family="'Liberation Sans', Arial, sans-serif" text-anchor="middle" fill="#000" stroke="#000" stroke-width="0.35">8</text>
<text x="488.7" y="1044.3" font-size="20.5" font-family="'Liberation Sans', Arial, sans-serif" text-anchor="middle" fill="#000" stroke="#000" stroke-width="0.35">1</text>
<text x="570.6" y="1044.3" font-size="20.5" font-family="'Liberation Sans', Arial, sans-serif" text-anchor="middle" fill="#000" stroke="#000" stroke-width="0.35">8</text>
<text x="652.5" y="1044.3" font-size="20.5" font-family="'Liberation Sans', Arial, sans-serif" text-anchor="middle" fill="#000" stroke="#000" stroke-width="0.35">8</text>
<text x="734.3" y="1044.3" font-size="20.5" font-family="'Liberation Sans', Arial, sans-serif" text-anchor="middle" fill="#000" stroke="#000" stroke-width="0.35">7</text>
<text x="816.2" y="1044.3" font-size="20.5" font-family="'Liberation Sans', Arial, sans-serif" text-anchor="middle" fill="#000" stroke="#000" stroke-width="0.35">2</text>
<text x="898.1" y="1044.3" font-size="20.5" font-family="'Liberation Sans', Arial, sans-serif" text-anchor="middle" fill="#000" stroke="#000" stroke-width="0.35">7</text>
<text x="980.0" y="1044.3" font-size="20.5" font-family="'Liberation Sans', Arial, sans-serif" text-anchor="middle" fill="#000" stroke="#000" stroke-width="0.35">7</text>
<text x="406.8" y="1120.9" font-size="20.5" font-family="'Liberation Sans', Arial, sans-serif" text-anchor="middle" fill="#000" stroke="#000" stroke-width="0.35">6</text>
<text x="488.7" y="1120.9" font-size="20.5" font-family="'Liberation Sans', Arial, sans-serif" text-anchor="middle" fill="#000" stroke="#000" stroke-width="0.35">7</text>
<text x="570.6" y="1120.9" font-size="20.5" font-family="'Liberation Sans', Arial, sans-serif" text-anchor="middle" fill="#000" stroke="#000" stroke-width="0.35">1</text>
<text x="652.5" y="1120.9" font-size="20.5" font-family="'Liberation Sans', Arial, sans-serif" text-anchor="middle" fill="#000" stroke="#000" stroke-width="0.35">5</text>
<text x="734.3" y="1120.9" font-size="20.5" font-family="'Liberation Sans', Arial, sans-serif" text-anchor="middle" fill="#000" stroke="#000" stroke-width="0.35">6</text>
<text x="816.2" y="1120.9" font-size="20.5" font-family="'Liberation Sans', Arial, sans-serif" text-anchor="middle" fill="#000" stroke="#000" stroke-width="0.35">6</text>
<text x="898.1" y="1120.9" font-size="20.5" font-family="'Liberation Sans', Arial, sans-serif" text-anchor="middle" fill="#000" stroke="#000" stroke-width="0.35">2</text>
<text x="980.0" y="1120.9" font-size="20.5" font-family="'Liberation Sans', Arial, sans-serif" text-anchor="middle" fill="#000" stroke="#000" stroke-width="0.35">5</text>
<text x="406.8" y="1197.5" font-size="20.5" font-family="'Liberation Sans', Arial, sans-serif" text-anchor="middle" fill="#000" stroke="#000" stroke-width="0.35">4</text>
<text x="488.7" y="1197.5" font-size="20.5" font-family="'Liberation Sans', Arial, sans-serif" text-anchor="middle" fill="#000" stroke="#000" stroke-width="0.35">6</text>
<text x="570.6" y="1197.5" font-size="20.5" font-family="'Liberation Sans', Arial, sans-serif" text-anchor="middle" fill="#000" stroke="#000" stroke-width="0.35">4</text>
<text x="652.5" y="1197.5" font-size="20.5" font-family="'Liberation Sans', Arial, sans-serif" text-anchor="middle" fill="#000" stroke="#000" stroke-width="0.35">1</text>
<text x="734.3" y="1197.5" font-size="20.5" font-family="'Liberation Sans', Arial, sans-serif" text-anchor="middle" fill="#000" stroke="#000" stroke-width="0.35">3</text>
<text x="816.2" y="1197.5" font-size="20.5" font-family="'Liberation Sans', Arial, sans-serif" text-anchor="middle" fill="#000" stroke="#000" stroke-width="0.35">4</text>
<text x="898.1" y="1197.5" font-size="20.5" font-family="'Liberation Sans', Arial, sans-serif" text-anchor="middle" fill="#000" stroke="#000" stroke-width="0.35">4</text>
<text x="980.0" y="1197.5" font-size="20.5" font-family="'Liberation Sans', Arial, sans-serif" text-anchor="middle" fill="#000" stroke="#000" stroke-width="0.35">2</text>
<text x="406.8" y="1274.0" font-size="20.5" font-family="'Liberation Sans', Arial, sans-serif" text-anchor="middle" fill="#000" stroke="#000" stroke-width="0.35">2</text>
<text x="488.7" y="1274.0" font-size="20.5" font-family="'Liberation Sans', Arial, sans-serif" text-anchor="middle" fill="#000" stroke="#000" stroke-width="0.35">5</text>
<text x="570.6" y="1274.0" font-size="20.5" font-family="'Liberation Sans', Arial, sans-serif" text-anchor="middle" fill="#000" stroke="#000" stroke-width="0.35">5</text>
<text x="652.5" y="1274.0" font-size="20.5" font-family="'Liberation Sans', Arial, sans-serif" text-anchor="middle" fill="#000" stroke="#000" stroke-width="0.35">3</text>
<text x="734.3" y="1274.0" font-size="20.5" font-family="'Liberation Sans', Arial, sans-serif" text-anchor="middle" fill="#000" stroke="#000" stroke-width="0.35">1</text>
<text x="816.2" y="1274.0" font-size="20.5" font-family="'Liberation Sans', Arial, sans-serif" text-anchor="middle" fill="#000" stroke="#000" stroke-width="0.35">7</text>
<text x="898.1" y="1274.0" font-size="20.5" font-family="'Liberation Sans', Arial, sans-serif" text-anchor="middle" fill="#000" stroke="#000" stroke-width="0.35">5</text>
<text x="980.0" y="1274.0" font-size="20.5" font-family="'Liberation Sans', Arial, sans-serif" text-anchor="middle" fill="#000" stroke="#000" stroke-width="0.35">3</text>
<text x="406.8" y="1350.6" font-size="20.5" font-family="'Liberation Sans', Arial, sans-serif" text-anchor="middle" fill="#000" stroke="#000" stroke-width="0.35">7</text>
<text x="488.7" y="1350.6" font-size="20.5" font-family="'Liberation Sans', Arial, sans-serif" text-anchor="middle" fill="#000" stroke="#000" stroke-width="0.35">2</text>
<text x="570.6" y="1350.6" font-size="20.5" font-family="'Liberation Sans', Arial, sans-serif" text-anchor="middle" fill="#000" stroke="#000" stroke-width="0.35">7</text>
<text x="652.5" y="1350.6" font-size="20.5" font-family="'Liberation Sans', Arial, sans-serif" text-anchor="middle" fill="#000" stroke="#000" stroke-width="0.35">7</text>
<text x="734.3" y="1350.6" font-size="20.5" font-family="'Liberation Sans', Arial, sans-serif" text-anchor="middle" fill="#000" stroke="#000" stroke-width="0.35">8</text>
<text x="816.2" y="1350.6" font-size="20.5" font-family="'Liberation Sans', Arial, sans-serif" text-anchor="middle" fill="#000" stroke="#000" stroke-width="0.35">1</text>
<text x="898.1" y="1350.6" font-size="20.5" font-family="'Liberation Sans', Arial, sans-serif" text-anchor="middle" fill="#000" stroke="#000" stroke-width="0.35">6</text>
<text x="980.0" y="1350.6" font-size="20.5" font-family="'Liberation Sans', Arial, sans-serif" text-anchor="middle" fill="#000" stroke="#000" stroke-width="0.35">6</text>
<text x="406.8" y="1427.2" font-size="20.5" font-family="'Liberation Sans', Arial, sans-serif" text-anchor="middle" fill="#000" stroke="#000" stroke-width="0.35">5</text>
<text x="488.7" y="1427.2" font-size="20.5" font-family="'Liberation Sans', Arial, sans-serif" text-anchor="middle" fill="#000" stroke="#000" stroke-width="0.35">4</text>
<text x="570.6" y="1427.2" font-size="20.5" font-family="'Liberation Sans', Arial, sans-serif" text-anchor="middle" fill="#000" stroke="#000" stroke-width="0.35">2</text>
<text x="652.5" y="1427.2" font-size="20.5" font-family="'Liberation Sans', Arial, sans-serif" text-anchor="middle" fill="#000" stroke="#000" stroke-width="0.35">4</text>
<text x="734.3" y="1427.2" font-size="20.5" font-family="'Liberation Sans', Arial, sans-serif" text-anchor="middle" fill="#000" stroke="#000" stroke-width="0.35">5</text>
<text x="816.2" y="1427.2" font-size="20.5" font-family="'Liberation Sans', Arial, sans-serif" text-anchor="middle" fill="#000" stroke="#000" stroke-width="0.35">5</text>
<text x="898.1" y="1427.2" font-size="20.5" font-family="'Liberation Sans', Arial, sans-serif" text-anchor="middle" fill="#000" stroke="#000" stroke-width="0.35">1</text>
<text x="980.0" y="1427.2" font-size="20.5" font-family="'Liberation Sans', Arial, sans-serif" text-anchor="middle" fill="#000" stroke="#000" stroke-width="0.35">4</text>
<text x="406.8" y="1503.8" font-size="20.5" font-family="'Liberation Sans', Arial, sans-serif" text-anchor="middle" fill="#000" stroke="#000" stroke-width="0.35">3</text>
<text x="488.7" y="1503.8" font-size="20.5" font-family="'Liberation Sans', Arial, sans-serif" text-anchor="middle" fill="#000" stroke="#000" stroke-width="0.35">3</text>
<text x="570.6" y="1503.8" font-size="20.5" font-family="'Liberation Sans', Arial, sans-serif" text-anchor="middle" fill="#000" stroke="#000" stroke-width="0.35">3</text>
<text x="652.5" y="1503.8" font-size="20.5" font-family="'Liberation Sans', Arial, sans-serif" text-anchor="middle" fill="#000" stroke="#000" stroke-width="0.35">2</text>
<text x="734.3" y="1503.8" font-size="20.5" font-family="'Liberation Sans', Arial, sans-serif" text-anchor="middle" fill="#000" stroke="#000" stroke-width="0.35">2</text>
<text x="816.2" y="1503.8" font-size="20.5" font-family="'Liberation Sans', Arial, sans-serif" text-anchor="middle" fill="#000" stroke="#000" stroke-width="0.35">3</text>
<text x="898.1" y="1503.8" font-size="20.5" font-family="'Liberation Sans', Arial, sans-serif" text-anchor="middle" fill="#000" stroke="#000" stroke-width="0.35">3</text>
<text x="980.0" y="1503.8" font-size="20.5" font-family="'Liberation Sans', Arial, sans-serif" text-anchor="middle" fill="#000" stroke="#000" stroke-width="0.35">1</text>
<rect x="360.2" y="922.2" width="655.0" height="612.7" fill="none" stroke="#555" stroke-width="1.3"/>
<path d="M401.1,922.2 v5.5 M401.1,1534.9 v-5.5 M483.0,922.2 v5.5 M483.0,1534.9 v-5.5 M564.9,922.2 v5.5 M564.9,1534.9 v-5.5 M646.8,922.2 v5.5 M646.8,1534.9 v-5.5 M728.6,922.2 v5.5 M728.6,1534.9 v-5.5 M810.5,922.2 v5.5 M810.5,1534.9 v-5.5 M892.4,922.2 v5.5 M892.4,1534.9 v-5.5 M974.3,922.2 v5.5 M974.3,1534.9 v-5.5 M360.2,960.5 h5.5 M1015.2,960.5 h-5.5 M360.2,1037.1 h5.5 M1015.2,1037.1 h-5.5 M360.2,1113.7 h5.5 M1015.2,1113.7 h-5.5 M360.2,1190.3 h5.5 M1015.2,1190.3 h-5.5 M360.2,1266.8 h5.5 M1015.2,1266.8 h-5.5 M360.2,1343.4 h5.5 M1015.2,1343.4 h-5.5 M360.2,1420.0 h5.5 M1015.2,1420.0 h-5.5 M360.2,1496.6 h5.5 M1015.2,1496.6 h-5.5" stroke="#444" stroke-width="1.2" fill="none"/>
<text x="351.5" y="970.0" font-size="25.8" font-family="'Liberation Sans', Arial, sans-serif" text-anchor="end" fill="#1a1a1a">offer-max</text>
<text x="351.5" y="1046.6" font-size="25.8" font-family="'Liberation Sans', Arial, sans-serif" text-anchor="end" fill="#1a1a1a">myopic</text>
<text x="351.5" y="1123.2" font-size="25.8" font-family="'Liberation Sans', Arial, sans-serif" text-anchor="end" fill="#1a1a1a">prospective</text>
<text x="351.5" y="1276.3" font-size="25.8" font-family="'Liberation Sans', Arial, sans-serif" text-anchor="end" fill="#1a1a1a">offer-max + goal progress</text>
<text x="351.5" y="1352.9" font-size="25.8" font-family="'Liberation Sans', Arial, sans-serif" text-anchor="end" fill="#1a1a1a">myopic + goal progress</text>
<text x="351.5" y="1429.5" font-size="25.8" font-family="'Liberation Sans', Arial, sans-serif" text-anchor="end" fill="#1a1a1a">prospective + goal progress</text>
<text x="343.0" y="1204.0" font-size="25.1" font-family="'Liberation Sans', Arial, sans-serif" text-anchor="end" fill="#000">tree-search</text>
<text x="167.0" y="1503.7" font-size="25.1" font-family="'Liberation Sans', Arial, sans-serif" text-anchor="end" fill="#000">tree-search</text>
<text x="351.5" y="1505.4" font-size="25.8" font-family="'Liberation Sans', Arial, sans-serif" text-anchor="end" fill="#1a1a1a">+ goal progress</text>
<text x="0.0" y="0.0" font-size="28.2" font-family="'Liberation Sans', Arial, sans-serif" text-anchor="middle" fill="#1a1a1a" transform="translate(24.6,1228.5) rotate(-90)">recovered model</text>
<text x="0.0" y="0.0" font-size="25.8" font-family="'Liberation Sans', Arial, sans-serif" text-anchor="end" fill="#1a1a1a" transform="translate(412.6,1564.5) rotate(-30)">offer-max</text>
<text x="0.0" y="0.0" font-size="25.8" font-family="'Liberation Sans', Arial, sans-serif" text-anchor="end" fill="#1a1a1a" transform="translate(494.5,1564.5) rotate(-30)">myopic</text>
<text x="0.0" y="0.0" font-size="25.8" font-family="'Liberation Sans', Arial, sans-serif" text-anchor="end" fill="#1a1a1a" transform="translate(576.4,1564.5) rotate(-30)">prospective</text>
<text x="0.0" y="0.0" font-size="25.1" font-family="'Liberation Sans', Arial, sans-serif" text-anchor="end" fill="#000" transform="translate(658.3,1564.5) rotate(-30)">tree-search</text>
<text x="0.0" y="0.0" font-size="25.8" font-family="'Liberation Sans', Arial, sans-serif" text-anchor="end" fill="#1a1a1a" transform="translate(740.1,1564.5) rotate(-30)">offer-max + goal progress</text>
<text x="0.0" y="0.0" font-size="25.8" font-family="'Liberation Sans', Arial, sans-serif" text-anchor="end" fill="#1a1a1a" transform="translate(822.0,1564.5) rotate(-30)">myopic + goal progress</text>
<text x="0.0" y="0.0" font-size="25.8" font-family="'Liberation Sans', Arial, sans-serif" text-anchor="end" fill="#1a1a1a" transform="translate(903.9,1564.5) rotate(-30)">prospective + goal progress</text>
<text x="0.0" y="0.0" font-size="25.8" font-family="'Liberation Sans', Arial, sans-serif" text-anchor="end" fill="#1a1a1a" transform="translate(985.8,1564.5) rotate(-30)"><tspan fill="#000" font-size="25.1">tree-search</tspan> + goal progress</text>
<text x="687.2" y="1754.0" font-size="28.2" font-family="'Liberation Sans', Arial, sans-serif" text-anchor="middle" fill="#1a1a1a">simulated model</text>
<rect x="1351" y="818.1" width="373.6" height="124.1" rx="5" fill="#fff" stroke="#d0d0d0" stroke-width="1.5"/>
<text x="1536.3" y="851.4" font-size="30.6" font-family="'DejaVu Sans', 'Liberation Sans', sans-serif" text-anchor="middle" fill="#111">model</text>
<rect x="1359.6" y="872.4" width="51.7" height="17.2" fill="#d62a2d"/>
<rect x="1359.6" y="909.9" width="51.7" height="18.1" fill="#fdc010"/>
<text x="1431.8" y="889.2" font-size="25.6" font-family="'DejaVu Sans', 'Liberation Sans', sans-serif" text-anchor="start" fill="#111">value alone</text>
<text x="1431.8" y="927.4" font-size="25.6" font-family="'DejaVu Sans', 'Liberation Sans', sans-serif" text-anchor="start" fill="#111">value + goal progress</text>
<rect x="1249.4" y="984.5" width="440.3" height="40.5" fill="#d62a2d"/>
<rect x="1249.4" y="1032.8" width="224.6" height="40.0" fill="#fdc010"/>
<rect x="1249.4" y="1145.6" width="510.9" height="39.9" fill="#d62a2d"/>
<rect x="1249.4" y="1193.9" width="457.8" height="39.0" fill="#fdc010"/>
<rect x="1249.4" y="1306.9" width="202.2" height="39.0" fill="#d62a2d"/>
<rect x="1249.4" y="1354.8" width="124.5" height="39.0" fill="#fdc010"/>
<rect x="1249.4" y="1467.8" width="74.4" height="39.0" fill="#d62a2d"/>
<rect x="1249.4" y="1515.6" width="68.3" height="39.9" fill="#fdc010"/>
<rect x="1249.4" y="957.3" width="518.2" height="627.9" fill="none" stroke="#222" stroke-width="1.6"/>
<path d="M1249.4,1029 h-6 M1249.4,1189.3 h-6 M1249.4,1350.4 h-6 M1249.4,1512.3 h-6 M1249.4,1585.2 v6 M1367.5,1585.2 v6 M1485.6,1585.2 v6 M1603.7,1585.2 v6 M1721.8,1585.2 v6" stroke="#222" stroke-width="1.5" fill="none"/>
<text x="1236.3" y="1041.1" font-size="30.9" font-family="'DejaVu Sans', 'Liberation Sans', sans-serif" text-anchor="end" fill="#111">offer max</text>
<text x="1236.3" y="1201.4" font-size="30.9" font-family="'DejaVu Sans', 'Liberation Sans', sans-serif" text-anchor="end" fill="#111">myopic</text>
<text x="1236.3" y="1362.5" font-size="30.9" font-family="'DejaVu Sans', 'Liberation Sans', sans-serif" text-anchor="end" fill="#111">prospective</text>
<text x="1222.6" y="1528.0" font-size="31.1" font-family="'DejaVu Sans', 'Liberation Sans', sans-serif" text-anchor="end" fill="#111">tree-search</text>
<text x="1249.4" y="1615.5" font-size="26.3" font-family="'DejaVu Sans', 'Liberation Sans', sans-serif" text-anchor="middle" fill="#111" textLength="64.5" lengthAdjust="spacingAndGlyphs">4000</text>
<text x="1367.5" y="1615.5" font-size="26.3" font-family="'DejaVu Sans', 'Liberation Sans', sans-serif" text-anchor="middle" fill="#111" textLength="64.5" lengthAdjust="spacingAndGlyphs">4500</text>
<text x="1485.6" y="1615.5" font-size="26.3" font-family="'DejaVu Sans', 'Liberation Sans', sans-serif" text-anchor="middle" fill="#111" textLength="64.5" lengthAdjust="spacingAndGlyphs">5000</text>
<text x="1603.7" y="1615.5" font-size="26.3" font-family="'DejaVu Sans', 'Liberation Sans', sans-serif" text-anchor="middle" fill="#111" textLength="64.5" lengthAdjust="spacingAndGlyphs">5500</text>
<text x="1721.8" y="1615.5" font-size="26.3" font-family="'DejaVu Sans', 'Liberation Sans', sans-serif" text-anchor="middle" fill="#111" textLength="64.5" lengthAdjust="spacingAndGlyphs">6000</text>
<text x="1509.5" y="1650.5" font-size="30.3" font-family="'DejaVu Sans', 'Liberation Sans', sans-serif" text-anchor="middle" fill="#111">BIC</text>
<polygon points="1341.40,1530.10 1343.25,1533.85 1347.39,1534.45 1344.40,1537.37 1345.10,1541.50 1341.40,1539.55 1337.70,1541.50 1338.40,1537.37 1335.41,1534.45 1339.55,1533.85" fill="#000"/>
<rect x="210.2" y="1828.8" width="329.50000000000006" height="318.70000000000005" fill="none" stroke="#222" stroke-width="1.6"/>
<path d="M210.2,2134.3 h-6.3 M210.2,2083.4 h-6.3 M210.2,2032.5 h-6.3 M210.2,1981.6 h-6.3 M210.2,1930.8 h-6.3 M210.2,1879.9 h-6.3 M210.2,1829.0 h-6.3 M224.7,2147.5 v6.3 M325.4,2147.5 v6.3 M424.7,2147.5 v6.3 M524.4,2147.5 v6.3" stroke="#222" stroke-width="1.5" fill="none"/>
<text x="198.7" y="2143.7" font-size="24.9" font-family="'DejaVu Sans', 'Liberation Sans', sans-serif" text-anchor="end" fill="#111" textLength="30.0" lengthAdjust="spacingAndGlyphs">32</text>
<text x="198.7" y="2092.9" font-size="24.9" font-family="'DejaVu Sans', 'Liberation Sans', sans-serif" text-anchor="end" fill="#111" textLength="30.0" lengthAdjust="spacingAndGlyphs">36</text>
<text x="198.7" y="2042.0" font-size="24.9" font-family="'DejaVu Sans', 'Liberation Sans', sans-serif" text-anchor="end" fill="#111" textLength="30.0" lengthAdjust="spacingAndGlyphs">40</text>
<text x="198.7" y="1991.1" font-size="24.9" font-family="'DejaVu Sans', 'Liberation Sans', sans-serif" text-anchor="end" fill="#111" textLength="30.0" lengthAdjust="spacingAndGlyphs">44</text>
<text x="198.7" y="1940.2" font-size="24.9" font-family="'DejaVu Sans', 'Liberation Sans', sans-serif" text-anchor="end" fill="#111" textLength="30.0" lengthAdjust="spacingAndGlyphs">48</text>
<text x="198.7" y="1889.3" font-size="24.9" font-family="'DejaVu Sans', 'Liberation Sans', sans-serif" text-anchor="end" fill="#111" textLength="30.0" lengthAdjust="spacingAndGlyphs">52</text>
<text x="198.7" y="1838.5" font-size="24.9" font-family="'DejaVu Sans', 'Liberation Sans', sans-serif" text-anchor="end" fill="#111" textLength="30.0" lengthAdjust="spacingAndGlyphs">56</text>
<line x1="224.7" y1="2083.0" x2="224.7" y2="2108.5" stroke="#000" stroke-width="3.6"/>
<circle cx="224.7" cy="2095.9" r="6.3" fill="#000"/>
<line x1="325.4" y1="2089.8" x2="325.4" y2="2107.8" stroke="#000" stroke-width="3.6"/>
<circle cx="325.4" cy="2099.0" r="6.3" fill="#000"/>
<line x1="424.7" y1="1911.2" x2="424.7" y2="1945.0" stroke="#000" stroke-width="3.6"/>
<circle cx="424.7" cy="1928.8" r="6.3" fill="#000"/>
<line x1="524.4" y1="1833.9" x2="524.4" y2="1867.8" stroke="#000" stroke-width="3.6"/>
<circle cx="524.4" cy="1850.8" r="6.3" fill="#000"/>
<text x="0.0" y="0.0" font-size="29.5" font-family="'DejaVu Sans', 'Liberation Sans', sans-serif" text-anchor="middle" fill="#111" transform="translate(120.3,1988.2) rotate(-90)">CV accuracy (%)</text>
<text x="0.0" y="0.0" font-size="29.5" font-family="'DejaVu Sans', 'Liberation Sans', sans-serif" text-anchor="middle" fill="#111" transform="translate(154,1988.2) rotate(-90)">(abandonment trials)</text>
<text x="0.0" y="0.0" font-size="29.75" font-family="'DejaVu Sans', 'Liberation Sans', sans-serif" text-anchor="end" fill="#111" transform="translate(220.7,2176.4) rotate(-45)">offer-max</text>
<text x="0.0" y="0.0" font-size="29.75" font-family="'DejaVu Sans', 'Liberation Sans', sans-serif" text-anchor="end" fill="#111" transform="translate(321.4,2176.4) rotate(-45)">myopic</text>
<text x="0.0" y="0.0" font-size="29.75" font-family="'DejaVu Sans', 'Liberation Sans', sans-serif" text-anchor="end" fill="#111" transform="translate(420.7,2176.4) rotate(-45)">simple prospective</text>
<text x="0.0" y="0.0" font-size="29.75" font-family="'DejaVu Sans', 'Liberation Sans', sans-serif" text-anchor="end" fill="#111" transform="translate(520.4,2176.4) rotate(-45)">tree-search</text>
<rect x="824.7" y="1822.3" width="330.0" height="328.29999999999995" fill="none" stroke="#222" stroke-width="1.6"/>
<path d="M824.7,2104.7 h-6.3 M824.7,2057.6 h-6.3 M824.7,2010.5 h-6.3 M824.7,1963.4 h-6.3 M824.7,1916.3 h-6.3 M824.7,1869.2 h-6.3 M839.8,2150.6 v6.3 M939.2,2150.6 v6.3 M1038.9,2150.6 v6.3 M1138.9,2150.6 v6.3" stroke="#222" stroke-width="1.5" fill="none"/>
<text x="812.4" y="2114.0" font-size="24.5" font-family="'DejaVu Sans', 'Liberation Sans', sans-serif" text-anchor="end" fill="#111" textLength="29.6" lengthAdjust="spacingAndGlyphs">88</text>
<text x="812.4" y="2066.9" font-size="24.5" font-family="'DejaVu Sans', 'Liberation Sans', sans-serif" text-anchor="end" fill="#111" textLength="29.6" lengthAdjust="spacingAndGlyphs">89</text>
<text x="812.4" y="2019.8" font-size="24.5" font-family="'DejaVu Sans', 'Liberation Sans', sans-serif" text-anchor="end" fill="#111" textLength="29.6" lengthAdjust="spacingAndGlyphs">90</text>
<text x="812.4" y="1972.7" font-size="24.5" font-family="'DejaVu Sans', 'Liberation Sans', sans-serif" text-anchor="end" fill="#111" textLength="29.6" lengthAdjust="spacingAndGlyphs">91</text>
<text x="812.4" y="1925.6" font-size="24.5" font-family="'DejaVu Sans', 'Liberation Sans', sans-serif" text-anchor="end" fill="#111" textLength="29.6" lengthAdjust="spacingAndGlyphs">92</text>
<text x="812.4" y="1878.5" font-size="24.5" font-family="'DejaVu Sans', 'Liberation Sans', sans-serif" text-anchor="end" fill="#111" textLength="29.6" lengthAdjust="spacingAndGlyphs">93</text>
<line x1="839.8" y1="2013.0" x2="839.8" y2="2073.3" stroke="#000" stroke-width="3.6"/>
<circle cx="839.8" cy="2043.5" r="6.3" fill="#000"/>
<line x1="939.2" y1="1995.4" x2="939.2" y2="2013.0" stroke="#000" stroke-width="3.6"/>
<circle cx="939.2" cy="2003.8" r="6.3" fill="#000"/>
<line x1="1038.9" y1="1917.0" x2="1038.9" y2="1973.6" stroke="#000" stroke-width="3.6"/>
<circle cx="1038.9" cy="1945.5" r="6.3" fill="#000"/>
<line x1="1138.9" y1="1870.8" x2="1138.9" y2="1925.9" stroke="#000" stroke-width="3.6"/>
<circle cx="1138.9" cy="1898.8" r="6.3" fill="#000"/>
<text x="0.0" y="0.0" font-size="29.5" font-family="'DejaVu Sans', 'Liberation Sans', sans-serif" text-anchor="middle" fill="#111" transform="translate(735,1986.4) rotate(-90)">CV accuracy (%)</text>
<text x="0.0" y="0.0" font-size="29.5" font-family="'DejaVu Sans', 'Liberation Sans', sans-serif" text-anchor="middle" fill="#111" transform="translate(766,1986.4) rotate(-90)">(persist trials)</text>
<text x="0.0" y="0.0" font-size="29.75" font-family="'DejaVu Sans', 'Liberation Sans', sans-serif" text-anchor="end" fill="#111" transform="translate(834.8,2180.9) rotate(-45)">offer-max</text>
<text x="0.0" y="0.0" font-size="29.75" font-family="'DejaVu Sans', 'Liberation Sans', sans-serif" text-anchor="end" fill="#111" transform="translate(934.2,2180.9) rotate(-45)">myopic</text>
<text x="0.0" y="0.0" font-size="29.75" font-family="'DejaVu Sans', 'Liberation Sans', sans-serif" text-anchor="end" fill="#111" transform="translate(1033.9,2180.9) rotate(-45)">simple prospective</text>
<text x="0.0" y="0.0" font-size="29.75" font-family="'DejaVu Sans', 'Liberation Sans', sans-serif" text-anchor="end" fill="#111" transform="translate(1133.9,2180.9) rotate(-45)">tree-search</text>
<rect x="1373.5" y="2125.3" width="78.1" height="45.9" fill="#1f77b4"/>
<rect x="1570.6" y="1757.8" width="78.9" height="413.4" fill="#1f77b4"/>
<rect x="1314.4" y="1736.6" width="349.39999999999986" height="434.5999999999999" fill="none" stroke="#222" stroke-width="1.6"/>
<path d="M1314.4,2171.2 h-6.5 M1314.4,2094.6 h-6.5 M1314.4,2018.1 h-6.5 M1314.4,1941.5 h-6.5 M1314.4,1865.0 h-6.5 M1314.4,1788.4 h-6.5 M1314.4,2171.2 v6.5 M1412.9,2171.2 v6.5 M1511.5,2171.2 v6.5 M1610.0,2171.2 v6.5" stroke="#222" stroke-width="1.5" fill="none"/>
<text x="1302.8" y="2179.9" font-size="22.8" font-family="'DejaVu Sans', 'Liberation Sans', sans-serif" text-anchor="end" fill="#111" textLength="14.2" lengthAdjust="spacingAndGlyphs">0</text>
<text x="1302.8" y="2103.3" font-size="22.8" font-family="'DejaVu Sans', 'Liberation Sans', sans-serif" text-anchor="end" fill="#111" textLength="14.2" lengthAdjust="spacingAndGlyphs">5</text>
<text x="1302.8" y="2026.8" font-size="22.8" font-family="'DejaVu Sans', 'Liberation Sans', sans-serif" text-anchor="end" fill="#111" textLength="28.4" lengthAdjust="spacingAndGlyphs">10</text>
<text x="1302.8" y="1950.2" font-size="22.8" font-family="'DejaVu Sans', 'Liberation Sans', sans-serif" text-anchor="end" fill="#111" textLength="28.4" lengthAdjust="spacingAndGlyphs">15</text>
<text x="1302.8" y="1873.7" font-size="22.8" font-family="'DejaVu Sans', 'Liberation Sans', sans-serif" text-anchor="end" fill="#111" textLength="28.4" lengthAdjust="spacingAndGlyphs">20</text>
<text x="1302.8" y="1797.1" font-size="22.8" font-family="'DejaVu Sans', 'Liberation Sans', sans-serif" text-anchor="end" fill="#111" textLength="28.4" lengthAdjust="spacingAndGlyphs">25</text>
<text x="0.0" y="0.0" font-size="27.9" font-family="'DejaVu Sans', 'Liberation Sans', sans-serif" text-anchor="middle" fill="#111" transform="translate(1260.5,1956.2) rotate(-90)">frequency</text>
<text x="0.0" y="0.0" font-size="28.4" font-family="'DejaVu Sans', 'Liberation Sans', sans-serif" text-anchor="end" fill="#111" transform="translate(1309.4,2198.8) rotate(-45)">offer-max</text>
<text x="0.0" y="0.0" font-size="28.4" font-family="'DejaVu Sans', 'Liberation Sans', sans-serif" text-anchor="end" fill="#111" transform="translate(1407.9,2198.8) rotate(-45)">myopic</text>
<text x="0.0" y="0.0" font-size="28.4" font-family="'DejaVu Sans', 'Liberation Sans', sans-serif" text-anchor="end" fill="#111" transform="translate(1506.5,2198.8) rotate(-45)">simple prospective</text>
<text x="0.0" y="0.0" font-size="28.4" font-family="'DejaVu Sans', 'Liberation Sans', sans-serif" text-anchor="end" fill="#111" transform="translate(1605.0,2198.8) rotate(-45)">tree-search</text>
</svg></body></html>
